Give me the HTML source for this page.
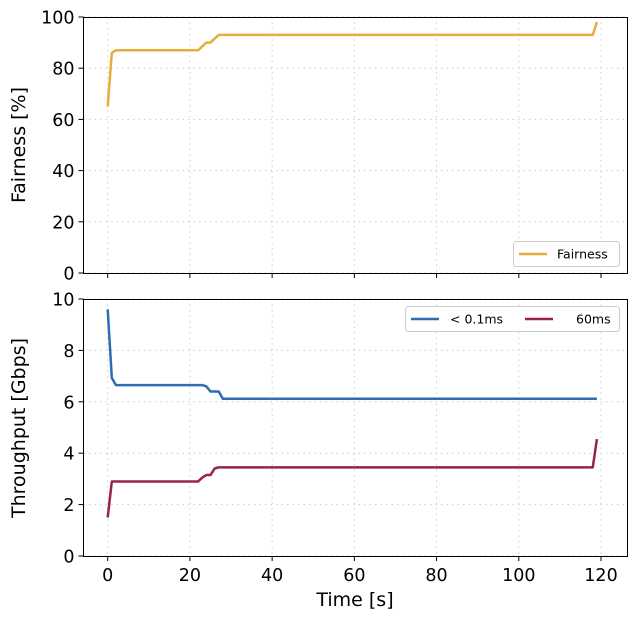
<!DOCTYPE html>
<html><head><meta charset="utf-8"><style>
body{margin:0;background:#fff}
svg{font-family:"DejaVu Sans","Liberation Sans",sans-serif}
</style></head><body>
<svg id="c" width="635" height="619"></svg>
<script>
const fairT=[0,1,2,22,24,25,27,118,119];
const fairV=[65,86,87,87,90,90,93,93,98];
const blueT=[0,1,2,23,24,25,26,27,28,119];
const blueV=[9.6,6.93,6.65,6.65,6.6,6.4,6.4,6.4,6.12,6.12];
const redT=[0,1,22,23,24,25,26,27,118,119];
const redV=[1.5,2.9,2.9,3.05,3.15,3.15,3.4,3.45,3.45,4.55];
const xTicks=[0,20,40,60,80,100,120];
const topTicks=[0,20,40,60,80,100];
const botTicks=[0,2,4,6,8,10];

const NS="http://www.w3.org/2000/svg";
const svg=document.getElementById('c');
const X0=83.5,X1=627.5;
const x=t=>107.7+t*(601-107.7)/120;
const yTop=v=>273-v*(273-17)/100;
const yBot=v=>556-v*(556-299)/10;
function mk(tag,a,p){const e=document.createElementNS(NS,tag);for(const k in a)e.setAttribute(k,a[k]);(p||svg).appendChild(e);return e;}

function panel(name,Y0,Y1,ticks,yf,showX){
  const g=mk('g',{});
  
  
  xTicks.forEach(t=>{
    const l=mk('line',{x1:x(t),x2:x(t),y1:Y0,y2:Y1,stroke:'#ccc','stroke-dasharray':'1.5,4','stroke-width':1},g);
    
    
    const tk=mk('line',{x1:x(t),x2:x(t),y1:Y1,y2:Y1+5,stroke:'#000'},g);
    
    
    if(showX){const tx=mk('text',{x:x(t),y:Y1+25,'font-size':17.5,'text-anchor':'middle'},g);tx.textContent=t;
      
      }
  });
  ticks.forEach(v=>{
    const l=mk('line',{x1:X0,x2:X1,y1:yf(v),y2:yf(v),stroke:'#ccc','stroke-dasharray':'1.5,4','stroke-width':1},g);
    
    
    const tk=mk('line',{x1:X0-5,x2:X0,y1:yf(v),y2:yf(v),stroke:'#000'},g);
    
    
    const tx=mk('text',{x:X0-9,y:yf(v)+6.5,'font-size':17.5,'text-anchor':'end'},g);tx.textContent=v;
    
    
  });
  const r=mk('rect',{x:X0,y:Y0+0.5,width:X1-X0,height:Y1-Y0,fill:'none',stroke:'#000','stroke-width':1},g);
  
  
}
function line(T,V,yf,col,name){
  const p=mk('polyline',{points:T.map((t,i)=>x(t)+','+yf(V[i])).join(' '),fill:'none',stroke:col,'stroke-width':2.5,'stroke-linejoin':'round'});
  
  
}
panel('fairness-panel',17,273,topTicks,yTop,false);
panel('throughput-panel',299,556,botTicks,yBot,true);
line(fairT,fairV,yTop,'#e6ac3c','fairness-line');
line(blueT,blueV,yBot,'#2f6cb3','throughput-low-latency-line');
line(redT,redV,yBot,'#992340','throughput-60ms-line');

function txt(s,a,name){const t=mk('text',a);t.textContent=s;
  
  return t;}
txt('Fairness [%]',{x:25,y:145,'font-size':19,'text-anchor':'middle',transform:'rotate(-90 25 145)'},'y-axis-title-fairness');
txt('Throughput [Gbps]',{x:25,y:428,'font-size':19,'text-anchor':'middle',transform:'rotate(-90 25 428)'},'y-axis-title-throughput');
txt('Time [s]',{x:355,y:606,'font-size':19,'text-anchor':'middle'},'x-axis-title');

const lg1=mk('g',{});


mk('rect',{x:513.5,y:241.5,width:106,height:25,rx:3,fill:'#fff',stroke:'#ccc'},lg1);
mk('line',{x1:519,x2:547,y1:254,y2:254,stroke:'#e6ac3c','stroke-width':2.5},lg1);
const t1=mk('text',{x:557,y:258.5,'font-size':12.5},lg1);t1.textContent='Fairness';
const lg2=mk('g',{});


mk('rect',{x:405.5,y:306.5,width:214,height:25,rx:3,fill:'#fff',stroke:'#ccc'},lg2);
mk('line',{x1:411,x2:439,y1:319,y2:319,stroke:'#2f6cb3','stroke-width':2.5},lg2);
const t2=mk('text',{x:450,y:323.5,'font-size':12.5},lg2);t2.textContent='< 0.1ms';
mk('line',{x1:525,x2:553,y1:319,y2:319,stroke:'#992340','stroke-width':2.5},lg2);
const t3=mk('text',{x:576,y:323.5,'font-size':12.5},lg2);t3.textContent='60ms';
</script>
</body></html>
